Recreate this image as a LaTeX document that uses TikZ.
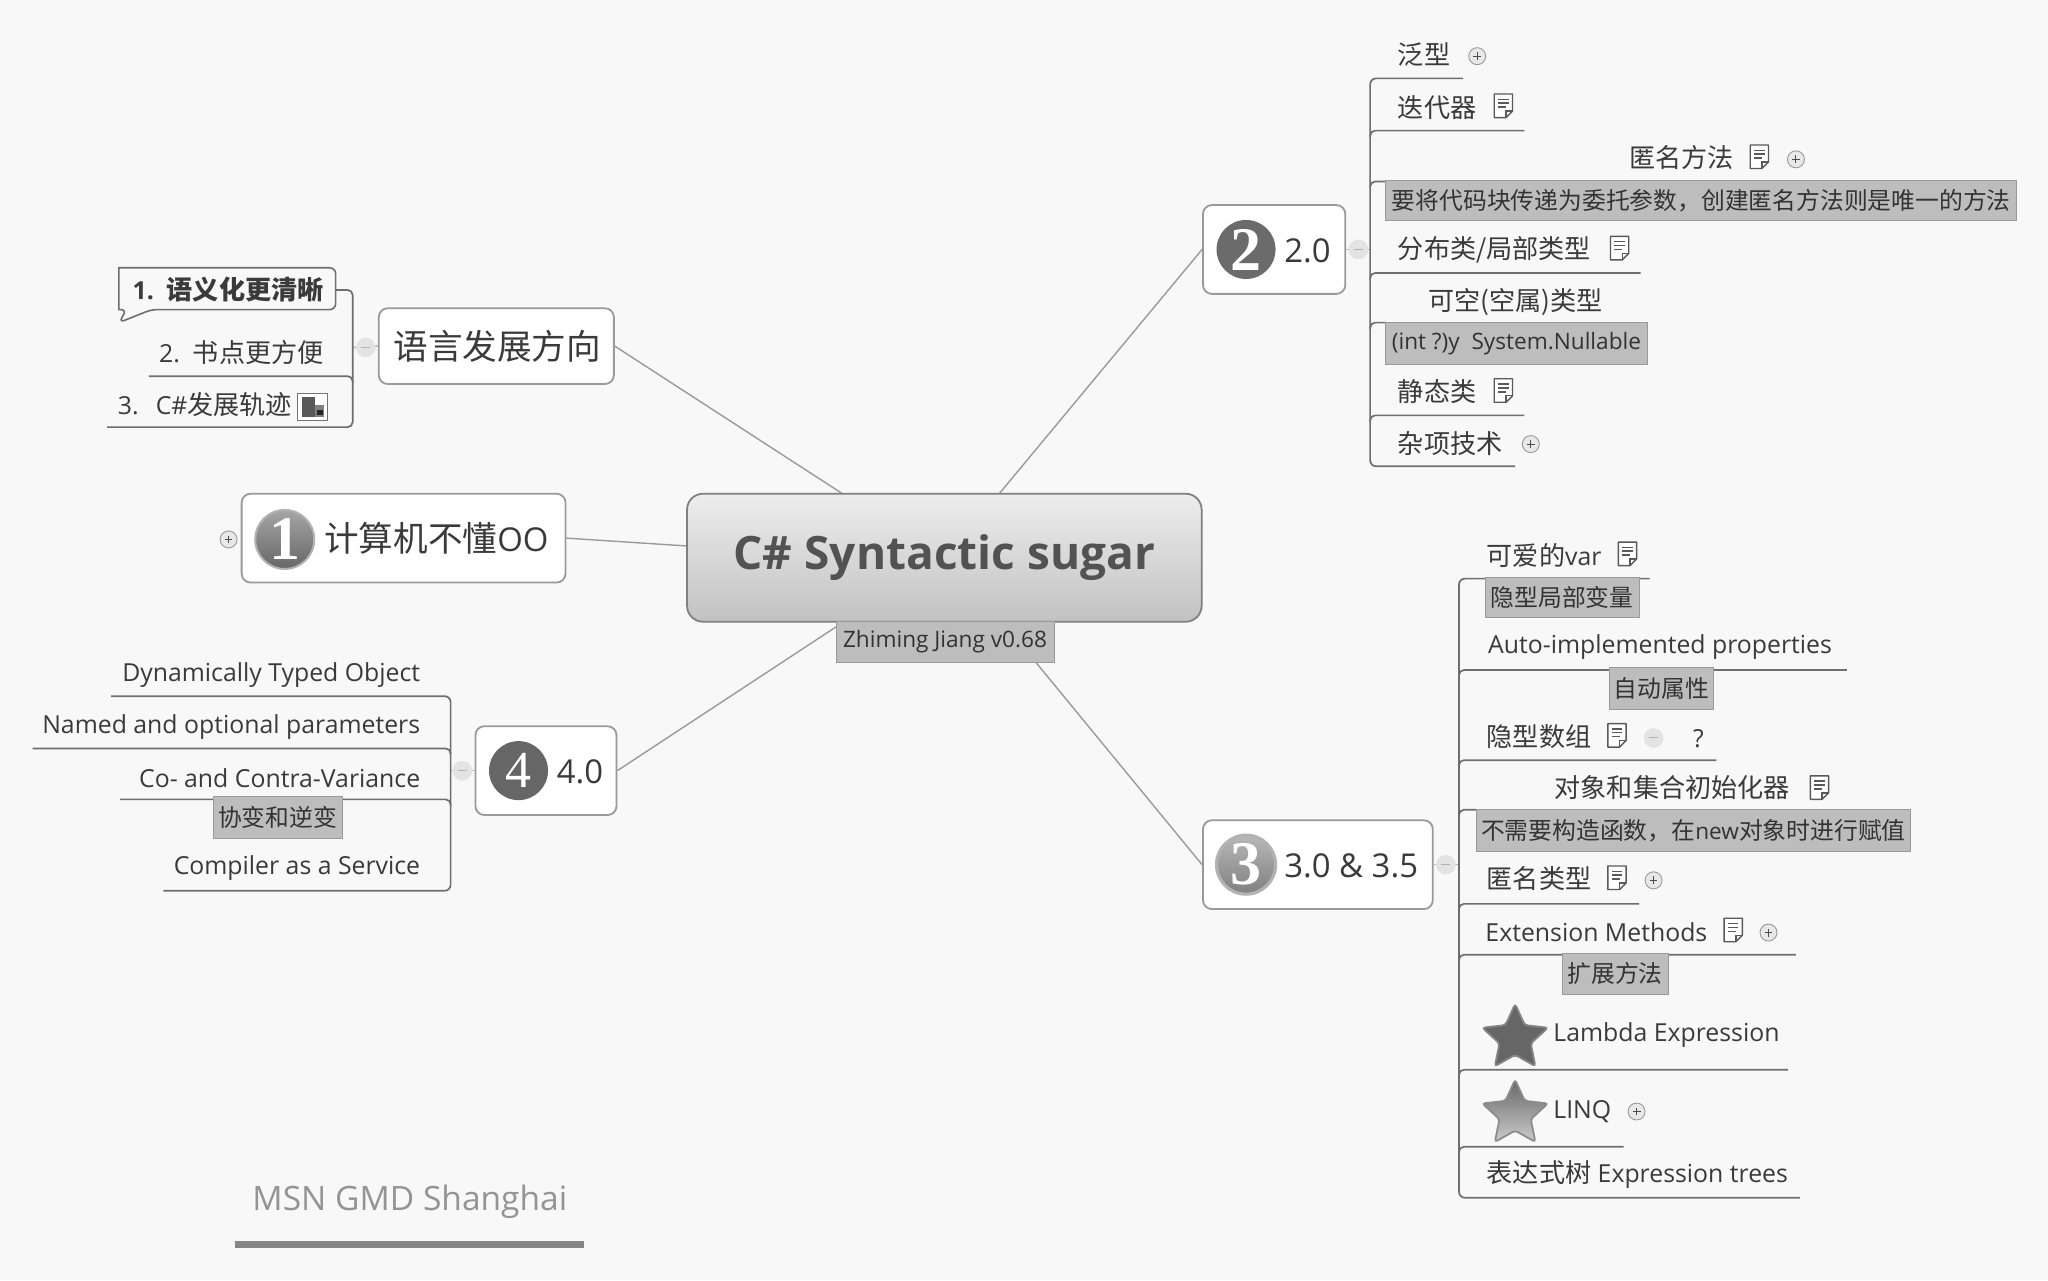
\documentclass[tikz,border=0pt]{standalone}
\usepackage{fontspec}
\setmainfont[Scale=0.95]{Open Sans}
\newfontfamily\cjk{Noto Sans CJK SC}
\newfontfamily\numf{Liberation Serif}
\usetikzlibrary{calc,shapes.geometric}
\definecolor{bgc}{HTML}{F8F8F8}
\definecolor{ink}{HTML}{3A3A3A}
\definecolor{branchc}{HTML}{6E6E6E}
\definecolor{linkc}{HTML}{9A9A9A}
\definecolor{notec}{HTML}{BDBDBD}
\newcommand\boxat[7][]{%
  \pgfmathsetmacro\bw{(#5-#3)*.653061}\pgfmathsetmacro\bh{(#6-#4)*.653061}%
  \node[#1,minimum width=\bw pt,minimum height=\bh pt] (#2) at ({(#3+#5)/2},{(#4+#6)/2}) {#7};}
\newcommand\rline[4]{% bracket, name, xend, y
  \coordinate (#2) at (#3,#4);
  \draw[branch,rounded corners=2.5pt] ($(#1 |- #2)+(0,5)$) |- (#2);}
\tikzset{
  branch/.style={draw=branchc,line width=.85pt},
  linker/.style={draw=linkc,line width=.7pt},
  stem/.style={draw=linkc!70,line width=.8pt},
  itemtxt/.style={inner sep=0pt,text=ink,font=\fontsize{13.06pt}{15pt}\selectfont,text height=9.9pt,text depth=0pt},
  itemw/.style={itemtxt,anchor=west},
  iteme/.style={itemtxt,anchor=east},
  notebox/.style={fill=notec,draw=linkc,line width=.4pt,inner sep=0pt,text=black!80,font=\fontsize{11.9pt}{14pt}\selectfont},
  topic/.style={fill=white,draw=linkc,line width=.9pt,rounded corners=4.5pt,inner sep=0pt},
  topictxt/.style={inner sep=0pt,anchor=west,text=ink,font=\fontsize{17.3pt}{20pt}\selectfont,text height=13.1pt,text depth=0pt},
  badge/.style={circle,inner sep=0pt,minimum size=29.5pt,text=white,font=\fontsize{31pt}{31pt}\numf\bfseries},
  starshape/.style={star,star points=5,star point ratio=2.1,minimum size=34.5pt,inner sep=0pt,rounded corners=1.5pt,line width=.9pt},
  pics/plusicon/.style={code={
    \draw[fill=black!9,draw=black!40,line width=.45pt] (0,0) circle (6.5);
    \draw[black!70,line width=.5pt] (-3,0)--(3,0) (0,-3)--(0,3);}},
  pics/minusicon/.style={code={
    \fill[black!11] (0,0) circle (7.5);
    \draw[black!30,line width=.5pt] (-3.5,0)--(3.5,0);}},
  pics/noteicon/.style={code={
    \draw[fill=white,draw=black!65,line width=.7pt,line join=round] (-7,-9)--(7,-9)--(7,4)--(2,9)--(-7,9)--cycle;
    \draw[black!65,line width=.7pt] (-4,-5)--(4,-5) (-4,-2)--(4,-2) (-4,1)--(2,1) (2,9)--(2,4)--(7,4);}},
}
\begin{document}
\begin{tikzpicture}[x=.653061pt,y=-.653061pt]
\fill[bgc] (0,0) rectangle (1568,980);
\useasboundingbox (0,0) rectangle (1568,980);

% --- central end points
\coordinate (cLang) at (645,378);
\coordinate (cOne) at (526,418);
\coordinate (cTwo) at (765,378);
\coordinate (cThree) at (793,507);
\coordinate (cFour) at (640,480);

% --- topics
\boxat[topic]{lang}{290}{236}{470}{294}{}
\boxat[topic]{one}{185}{378}{433}{446}{}
\boxat[topic]{two}{921}{157}{1030}{225}{}
\boxat[topic]{three}{921}{628}{1097}{696}{}
\boxat[topic]{four}{364}{556}{472}{624}{}
\draw[linker] (lang.east) -- (cLang);
\draw[linker] (one.east) -- (cOne);
\draw[linker] (two.west) -- (cTwo);
\draw[linker] (three.west) -- (cThree);
\draw[linker] (four.east) -- (cFour);

\boxat[draw=black!50,line width=.9pt,rounded corners=8pt,top color=black!7,bottom color=black!24,inner sep=0pt,text=black!68,font=\fontsize{24.2pt}{28pt}\selectfont\bfseries]{central}{526}{378}{920}{476}{C\# Syntactic sugar}
\boxat[notebox]{author}{640}{476}{807}{507}{Zhiming Jiang v0.68}

% --- topic contents
\node[topictxt] (langT) at (301,265) {\cjk 语言发展方向};
\node[badge,top color=black!35,bottom color=black!60,draw=black!30,line width=1pt] (badgeOne) at (218,413) {1};
\node[topictxt] (oneT) at (248,412) {{\cjk 计算机不懂}OO};
\node[badge,fill=black!58] (badgeTwo) at (954,191) {2};
\node[topictxt] (twoT) at (983,191) {2.0};
\node[badge,top color=black!28,bottom color=black!50,draw=black!30,line width=1.6pt] (badgeThree) at (954,662) {3};
\node[topictxt] (threeT) at (983,662) {3.0 \& 3.5};
\node[badge,fill=black!60,font=\fontsize{26pt}{26pt}\numf] (badgeFour) at (397,590) {4};
\node[topictxt] (fourT) at (426,590) {4.0};

% --- language branch
\coordinate (bLang) at (270,266);
\draw[stem] (lang.west) -- (bLang);
\pic at (280,266) {minusicon};
\coordinate (langTop) at (257,222);
\rline{bLang}{langMid}{114}{288}
\coordinate (langBot) at (82,327);
\draw[branch,rounded corners=2.5pt] (langTop) -- (bLang |- langTop) -- (bLang |- langBot) -- (langBot);
\draw[branch,fill=bgc,rounded corners=3pt,line width=.8pt] (91,205) -- (257,205) -- (257,237) -- (116,237) -- (91,247) -- (97,237) [sharp corners] -- (91,237) -- cycle;
\node[iteme,font=\fontsize{13.06pt}{15pt}\selectfont\bfseries] (lang1) at (248,222) {1.~~{\cjk\bfseries 语义化更清晰}};
\node[iteme] (lang2) at (248,270) {2.~~{\cjk 书点更方便}};
\node[itemw] (lang3) at (90,310) {3.~~\,C\#{\cjk 发展轨迹}};
\draw[fill=white,draw=black!55,line width=.5pt] (228,301) rectangle (251,322);
\fill[black!65] (231,304) rectangle (241,319);
\fill[black!50] (241,310) rectangle (248,319);
\fill[black!85] (243,314) rectangle (247,318);

% --- one
\pic at (175,413) {plusicon};

% --- two branch
\coordinate (bTwo) at (1049,191);
\draw[stem] (two.east) -- (bTwo);
\pic at (1040,191) {minusicon};
\coordinate (twoTop) at (1120,60);
\coordinate (twoBot) at (1160,357);
\draw[branch,rounded corners=3pt] (twoTop) -- (bTwo |- twoTop) -- (bTwo |- twoBot) -- (twoBot);
\rline{bTwo}{twoB}{1167}{100}
\rline{bTwo}{twoC}{1061}{139}
\rline{bTwo}{twoD}{1256}{209}
\rline{bTwo}{twoE}{1061}{247}
\rline{bTwo}{twoF}{1167}{318}
\node[itemw] (t21) at (1070,42) {\cjk 泛型};
\pic at (1131,43) {plusicon};
\node[itemw] (t22) at (1070,82) {\cjk 迭代器};
\pic at (1151,81) {noteicon};
\node[itemw] (t23) at (1247,121) {\cjk 匿名方法};
\pic at (1347,120) {noteicon};
\pic at (1375,122) {plusicon};
\boxat[notebox]{n23}{1061}{138}{1544}{169}{\cjk 要将代码块传递为委托参数，创建匿名方法则是唯一的方法}
\node[itemw] (t24) at (1070,190) {\cjk 分布类/局部类型};
\pic at (1240,190) {noteicon};
\node[itemw] (t25) at (1093,230) {\cjk 可空(空属)类型};
\boxat[notebox]{n25}{1061}{247}{1261}{279}{(int ?)y~~System.Nullable}
\node[itemw] (t26) at (1070,300) {\cjk 静态类};
\pic at (1151,299) {noteicon};
\node[itemw] (t27) at (1070,340) {\cjk 杂项技术};
\pic at (1172,340) {plusicon};

% --- three branch
\coordinate (bThree) at (1117,662);
\draw[stem] (three.east) -- (bThree);
\pic at (1107,662) {minusicon};
\coordinate (thTop) at (1263,443);
\coordinate (thBot) at (1378,917);
\draw[branch,rounded corners=3pt] (thTop) -- (bThree |- thTop) -- (bThree |- thBot) -- (thBot);
\rline{bThree}{thB}{1414}{513}
\rline{bThree}{thC}{1314}{582}
\rline{bThree}{thD}{1130}{620}
\rline{bThree}{thE}{1255}{692}
\rline{bThree}{thF}{1375}{731}
\rline{bThree}{thG}{1369}{819}
\rline{bThree}{thH}{1243}{878}
\node[itemw] (t31) at (1138,425) {{\cjk 可爱的}var};
\pic at (1246,424) {noteicon};
\boxat[notebox]{n31}{1137}{442}{1255}{473}{\cjk 隐型局部变量}
\node[itemw] (t32) at (1139,493) {Auto-implemented properties};
\boxat[notebox]{n32}{1232}{511}{1312}{543}{\cjk 自动属性}
\node[itemw] (t33) at (1138,564) {\cjk 隐型数组};
\pic at (1238,563) {noteicon};
\pic at (1266,565) {minusicon};
\node[itemw] (t33q) at (1296,565) {?};
\node[itemw] (t34) at (1190,603) {\cjk 对象和集合初始化器};
\pic at (1393,603) {noteicon};
\boxat[notebox]{n34}{1130}{620}{1463}{652}{{\cjk 不需要构造函数，在}new{\cjk 对象时进行赋值}}
\node[itemw] (t35) at (1138,673) {\cjk 匿名类型};
\pic at (1238,672) {noteicon};
\pic at (1266,674) {plusicon};
\node[itemw] (t36) at (1137,713) {Extension Methods};
\pic at (1327,712) {noteicon};
\pic at (1354,714) {plusicon};
\boxat[notebox]{n36}{1196}{730}{1277}{761}{\cjk 扩展方法}
\node[starshape,fill=black!60,draw=black!48] (starA) at (1160,795) {};
\node[itemw] (t37) at (1189,790) {Lambda Expression};
\node[starshape,top color=black!60,bottom color=black!20,draw=black!45] (starB) at (1160,853) {};
\node[itemw] (t38) at (1189,849) {LINQ};
\pic at (1253,851) {plusicon};
\node[itemw] (t39) at (1138,898) {{\cjk 表达式树} Expression trees};

% --- four branch
\coordinate (bFour) at (345,590);
\draw[stem] (four.west) -- (bFour);
\pic at (354,590) {minusicon};
\coordinate (frTop) at (85,533);
\coordinate (frBot) at (125,682);
\draw[branch,rounded corners=3pt] (frTop) -- (bFour |- frTop) -- (bFour |- frBot) -- (frBot);
\rline{bFour}{frB}{25}{573}
\rline{bFour}{frC}{92}{612}
\node[iteme] (t41) at (322,514) {Dynamically Typed Object};
\node[iteme] (t42) at (322,554) {Named and optional parameters};
\node[iteme] (t43) at (322,595) {Co- and Contra-Variance};
\boxat[notebox]{n43}{163}{610}{262}{642}{\cjk 协变和逆变}
\node[iteme] (t44) at (322,662) {Compiler as a Service};

% --- footer
\node[inner sep=0pt,anchor=west,text=black!42,font=\fontsize{17.65pt}{20pt}\selectfont] (footer) at (193,920) {MSN GMD Shanghai};
\fill[black!48] (180,950) rectangle (447,955.5);
\end{tikzpicture}
\end{document}
